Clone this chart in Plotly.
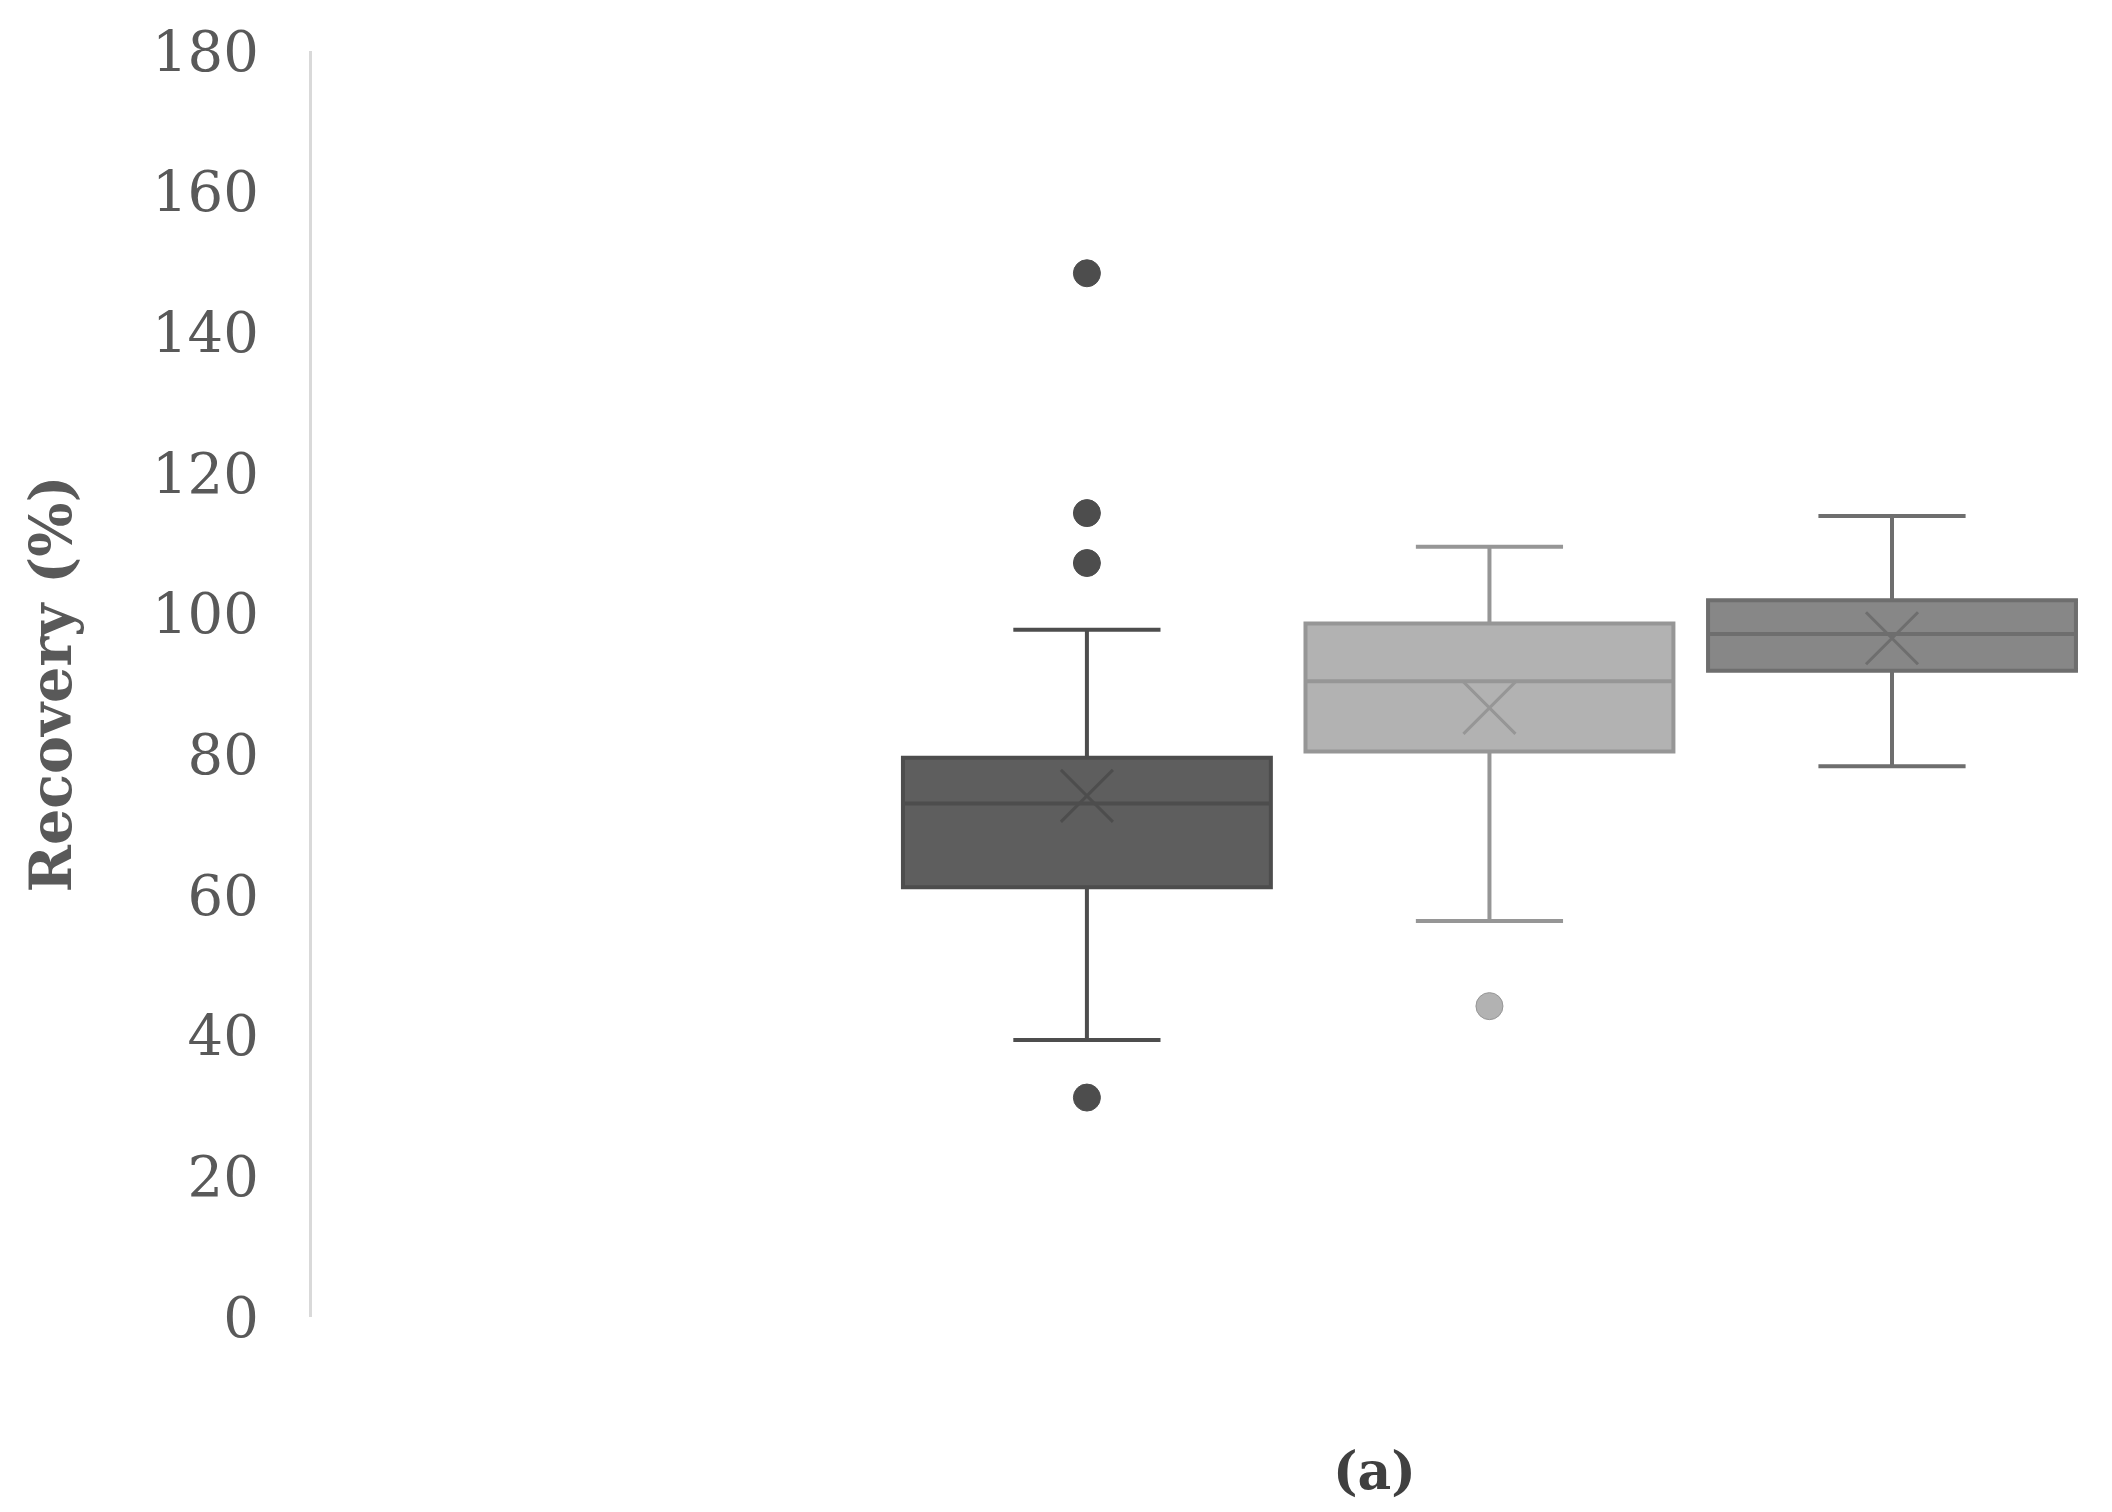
import plotly.graph_objects as go

# three series in one category
series = ["Series 1", "Series 2", "Series 3"]
q1 = [61.1, 80.4, 91.9]
median = [73.0, 90.4, 97.1]
q3 = [79.5, 98.6, 101.9]
lower_whisker = [39.4, 56.3, 78.3]
upper_whisker = [97.7, 109.5, 113.9]
mean = [74.1, 86.6, 96.5]
outliers = [[148.4, 114.3, 107.2, 31.2], [44.2], []]

y_ticks = [0, 20, 40, 60, 80, 100, 120, 140, 160, 180]

fills = ["#5e5e5e", "#b2b2b2", "#878787"]
edges = ["#4d4d4d", "#969696", "#6e6e6e"]

fig = go.Figure()

for i, name in enumerate(series):
    fig.add_trace(go.Box(
        x=[name],
        q1=[q1[i]], median=[median[i]], q3=[q3[i]],
        lowerfence=[lower_whisker[i]], upperfence=[upper_whisker[i]],
        name=name,
        boxpoints=False,
        width=0.914,
        whiskerwidth=0.4,
        fillcolor=fills[i],
        line=dict(color=edges[i], width=4),
        hoverinfo="skip",
    ))
    # mean shown as an X like excel does
    fig.add_trace(go.Scatter(
        x=[name], y=[mean[i]],
        mode="markers",
        marker=dict(symbol="x-thin", size=52, line=dict(color=edges[i], width=3)),
        hoverinfo="skip",
    ))
    if outliers[i]:
        fig.add_trace(go.Scatter(
            x=[name] * len(outliers[i]), y=outliers[i],
            mode="markers",
            marker=dict(symbol="circle", size=27, color=fills[i] if i else edges[i],
                        line=dict(color=edges[i], width=1)),
            hoverinfo="skip",
        ))

fig.update_layout(
    width=2112, height=1512,
    margin=dict(l=304, r=7, t=43, b=203),
    plot_bgcolor="white", paper_bgcolor="white",
    showlegend=False,
    font=dict(family="DejaVu Serif", color="#595959"),
)

fig.update_xaxes(
    type="category",
    categoryorder="array", categoryarray=series,
    range=[-1.925, 2.549],
    showticklabels=False, showgrid=False, zeroline=False, showline=False,
)

fig.update_yaxes(
    range=[0, 180],
    tickvals=y_ticks,
    ticktext=[str(v) for v in y_ticks],
    tickfont=dict(family="DejaVu Serif", size=56, color="#595959"),
    ticklabelstandoff=39,
    showgrid=False, zeroline=False,
    showline=True, linecolor="#d9d9d9", linewidth=3,
    title=dict(text="<b>Recovery (%)</b>", standoff=62,
               font=dict(family="DejaVu Serif", size=57, color="#595959")),
)

fig.add_annotation(
    text="<b>(a)</b>", xref="paper", yref="paper",
    x=0.590, y=-0.121, xanchor="center", yanchor="middle",
    showarrow=False,
    font=dict(family="DejaVu Serif", size=52, color="#404040"),
)

fig.write_html("out.html")
